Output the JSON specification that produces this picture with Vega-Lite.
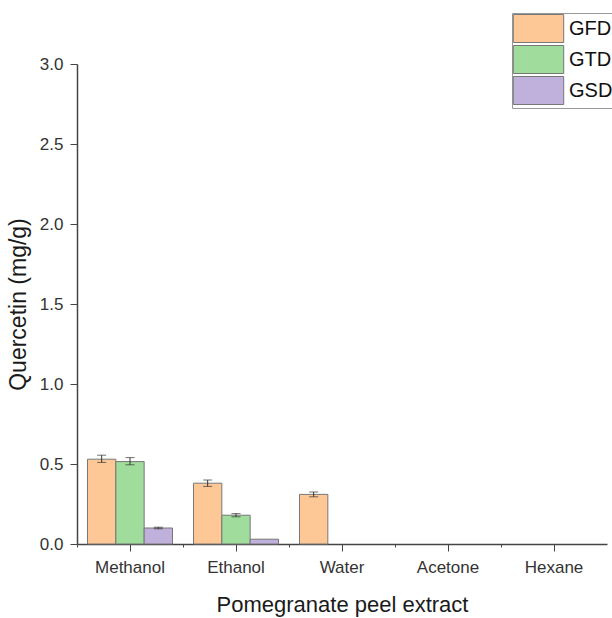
{
  "$schema": "https://vega.github.io/schema/vega-lite/v6.json",
  "width": 530,
  "height": 480,
  "autosize": {"type": "none"},
  "padding": {"left": 77, "top": 64, "right": 5, "bottom": 74},
  "background": "white",
  "config": {
    "view": {"stroke": null},
    "font": "Liberation Sans",
    "axis": {"labelFont": "Liberation Sans", "titleFont": "Liberation Sans", "labelColor": "#333", "titleColor": "#1a1a1a", "domainColor": "#444", "tickColor": "#444", "grid": false, "titleFontWeight": "normal", "labelFontSize": 17, "titleFontSize": 22}
  },
  "data": {"values": [
    {"extract": "Methanol", "group": "GFD", "value": 0.53, "lo": 0.51, "hi": 0.555},
    {"extract": "Methanol", "group": "GTD", "value": 0.515, "lo": 0.495, "hi": 0.54},
    {"extract": "Methanol", "group": "GSD", "value": 0.1, "lo": 0.095, "hi": 0.105},
    {"extract": "Ethanol", "group": "GFD", "value": 0.38, "lo": 0.36, "hi": 0.4},
    {"extract": "Ethanol", "group": "GTD", "value": 0.18, "lo": 0.17, "hi": 0.19},
    {"extract": "Ethanol", "group": "GSD", "value": 0.03, "lo": null, "hi": null},
    {"extract": "Water", "group": "GFD", "value": 0.31, "lo": 0.295, "hi": 0.325},
    {"extract": "Water", "group": "GTD", "value": 0, "lo": null, "hi": null},
    {"extract": "Water", "group": "GSD", "value": 0, "lo": null, "hi": null},
    {"extract": "Acetone", "group": "GFD", "value": 0, "lo": null, "hi": null},
    {"extract": "Acetone", "group": "GTD", "value": 0, "lo": null, "hi": null},
    {"extract": "Acetone", "group": "GSD", "value": 0, "lo": null, "hi": null},
    {"extract": "Hexane", "group": "GFD", "value": 0, "lo": null, "hi": null},
    {"extract": "Hexane", "group": "GTD", "value": 0, "lo": null, "hi": null},
    {"extract": "Hexane", "group": "GSD", "value": 0, "lo": null, "hi": null}
  ]},
  "resolve": {"axis": {"x": "independent"}},
  "layer": [
    {
      "transform": [{"filter": "datum.value > 0"}],
      "mark": {"type": "bar", "stroke": "#777", "strokeWidth": 1},
      "encoding": {
        "x": {"field": "extract", "type": "nominal",
              "scale": {"domain": ["Methanol", "Ethanol", "Water", "Acetone", "Hexane"], "paddingInner": 0, "paddingOuter": 0},
              "axis": {"orient": "bottom", "title": "Pomegranate peel extract", "labelAngle": 0, "tickSize": 7, "labelPadding": 8, "titlePadding": 19, "domainWidth": 1.5}},
        "xOffset": {"field": "group", "type": "nominal", "scale": {"domain": ["GFD", "GTD", "GSD"], "paddingInner": 0, "paddingOuter": 0.37}},
        "y": {"field": "value", "type": "quantitative", "scale": {"domain": [0, 3], "nice": false},
              "axis": {"title": "Quercetin (mg/g)", "titleFontSize": 23, "values": [0, 0.25, 0.5, 0.75, 1, 1.25, 1.5, 1.75, 2, 2.25, 2.5, 2.75, 3],
                       "labelExpr": "datum.value % 0.5 === 0 ? format(datum.value, '.1f') : ''",
                       "tickSize": {"condition": {"test": "datum.value % 0.5 !== 0", "value": 3}, "value": 7},
                       "labelPadding": 7, "titlePadding": 9, "domainWidth": 1.5}},
        "color": {"field": "group", "type": "nominal",
                  "scale": {"domain": ["GFD", "GTD", "GSD"], "range": ["#fdc895", "#a0dc9c", "#bfb1dc"]},
                  "legend": {"title": null, "orient": "none", "legendX": 435, "legendY": -51,
                             "symbolType": "M-1.8,-1H1.8V1H-1.8Z", "symbolSize": 784, "symbolOffset": 11, "symbolStrokeColor": "#777", "symbolStrokeWidth": 1,
                             "labelFontSize": 20, "labelColor": "#111", "labelFont": "Liberation Sans", "rowPadding": -3, "labelOffset": 16,
                             "padding": 1, "strokeColor": "#999", "fillColor": "white"}}
      }
    },
    {
      "transform": [{"filter": "datum.lo != null"}],
      "mark": {"type": "rule", "color": "#333", "strokeWidth": 1},
      "encoding": {
        "x": {"field": "extract", "type": "nominal",
              "axis": {"orient": "bottom", "bandPosition": 0, "labels": false, "title": null, "tickSize": 3, "domain": false}},
        "xOffset": {"field": "group", "type": "nominal"},
        "y": {"field": "lo", "type": "quantitative"},
        "y2": {"field": "hi"}
      }
    },
    {
      "transform": [{"filter": "datum.lo != null"}],
      "mark": {"type": "tick", "color": "#333", "thickness": 1, "size": 9},
      "encoding": {
        "x": {"field": "extract", "type": "nominal", "axis": null},
        "xOffset": {"field": "group", "type": "nominal"},
        "y": {"field": "lo", "type": "quantitative"}
      }
    },
    {
      "transform": [{"filter": "datum.lo != null"}],
      "mark": {"type": "tick", "color": "#333", "thickness": 1, "size": 9},
      "encoding": {
        "x": {"field": "extract", "type": "nominal", "axis": null},
        "xOffset": {"field": "group", "type": "nominal"},
        "y": {"field": "hi", "type": "quantitative"}
      }
    }
  ]
}
